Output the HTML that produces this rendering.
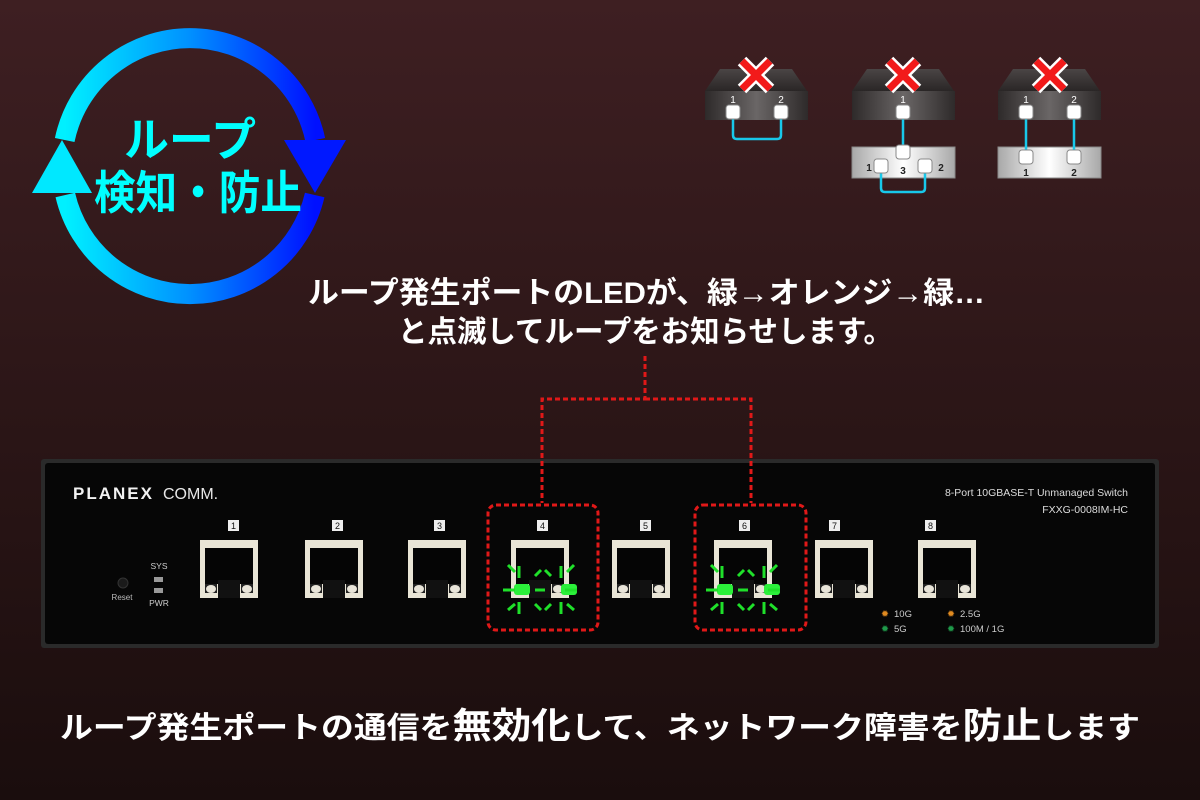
<!DOCTYPE html>
<html><head><meta charset="utf-8">
<style>
html,body{margin:0;padding:0;width:1200px;height:800px;overflow:hidden;background:#221212;}
svg{display:block}
text{font-family:"Liberation Sans","Noto Sans CJK JP",sans-serif;}
</style></head>
<body>
<svg width="1200" height="800" viewBox="0 0 1200 800" xmlns="http://www.w3.org/2000/svg">
<defs>
<linearGradient id="bg" x1="0" y1="0" x2="0" y2="1">
<stop offset="0" stop-color="#3e1f22"/><stop offset="0.55" stop-color="#2a1516"/><stop offset="1" stop-color="#1a0d0d"/>
</linearGradient>
<linearGradient id="ring" x1="0" y1="0" x2="1" y2="0">
<stop offset="0" stop-color="#00f0ff"/><stop offset="0.5" stop-color="#0090ff"/><stop offset="1" stop-color="#0010ff"/>
</linearGradient>
<linearGradient id="dark" x1="0" y1="0" x2="1" y2="0">
<stop offset="0" stop-color="#2e2a2a"/><stop offset="0.5" stop-color="#6a6666"/><stop offset="1" stop-color="#2e2a2a"/>
</linearGradient>
<linearGradient id="darktop" x1="0" y1="0" x2="0" y2="1">
<stop offset="0" stop-color="#4a4545"/><stop offset="1" stop-color="#2a2626"/>
</linearGradient>
<linearGradient id="light" x1="0" y1="0" x2="1" y2="0">
<stop offset="0" stop-color="#a8a8a8"/><stop offset="0.5" stop-color="#ffffff"/><stop offset="1" stop-color="#a8a8a8"/>
</linearGradient>
<g id="port">
<rect x="0" y="0" width="58" height="58" fill="#e9e5d6"/>
<rect x="5" y="8" width="48" height="38" fill="#050505"/>
<rect x="3" y="44" width="52" height="12" fill="#e9e5d6"/>
<rect x="18" y="40" width="22" height="18" fill="#111"/>
<rect x="5" y="44" width="12" height="9" fill="#222"/>
<rect x="41" y="44" width="12" height="9" fill="#222"/>
<ellipse cx="11" cy="49" rx="5" ry="4" fill="#e8e4d8"/>
<ellipse cx="47" cy="49" rx="5" ry="4" fill="#e8e4d8"/>
</g>
<g id="glow" stroke="#1fe02a" stroke-width="3" fill="none">
<line x1="-8" y1="46" x2="4" y2="46"/><line x1="24" y1="46" x2="34" y2="46"/><line x1="54" y1="46" x2="66" y2="46"/>
<line x1="4" y1="28" x2="-3" y2="21"/><line x1="8" y1="22" x2="8" y2="34"/>
<line x1="24" y1="32" x2="30" y2="26"/><line x1="34" y1="26" x2="40" y2="32"/>
<line x1="50" y1="22" x2="50" y2="34"/><line x1="56" y1="28" x2="63" y2="21"/>
<line x1="-3" y1="66" x2="4" y2="60"/><line x1="8" y1="58" x2="8" y2="70"/>
<line x1="24" y1="60" x2="30" y2="66"/><line x1="34" y1="66" x2="40" y2="60"/>
<line x1="50" y1="58" x2="50" y2="70"/><line x1="56" y1="60" x2="63" y2="66"/>
</g>
<g id="xmark" stroke-linecap="butt">
<line x1="-14" y1="-14" x2="14" y2="14" stroke="#fff" stroke-width="12"/>
<line x1="14" y1="-14" x2="-14" y2="14" stroke="#fff" stroke-width="12"/>
<line x1="-14" y1="-14" x2="14" y2="14" stroke="#f21a1a" stroke-width="7"/>
<line x1="14" y1="-14" x2="-14" y2="14" stroke="#f21a1a" stroke-width="7"/>
</g>
<g id="sock"><rect x="-7" y="-7" width="14" height="14" rx="3" fill="#fff" stroke="#888" stroke-width="1"/></g>
</defs>
<rect width="1200" height="800" fill="url(#bg)"/>

<!-- ring -->
<path d="M64.7 140 A128 128 0 0 1 315.3 140" fill="none" stroke="url(#ring)" stroke-width="20"/>
<path d="M314.7 195 A128 128 0 0 1 65.3 195" fill="none" stroke="url(#ring)" stroke-width="20"/>
<polygon points="32,193 92,193 62,140" fill="#00e8ff"/>
<polygon points="284,140 346,140 315,193" fill="#0018ff"/>
<g fill="#00ffff" font-weight="bold" stroke="#003" stroke-width="0" style="paint-order:stroke">
<text x="190" y="156" font-size="46" text-anchor="middle" textLength="132" lengthAdjust="spacingAndGlyphs">ループ</text>
<text x="198" y="209" font-size="46" text-anchor="middle" textLength="208" lengthAdjust="spacingAndGlyphs">検知・防止</text>
</g>

<!-- small diagrams -->
<g>
<polygon points="705,91 720,69 792,69 807,91" fill="url(#darktop)"/>
<rect x="705" y="91" width="103" height="29" fill="url(#dark)"/>
<path d="M733 112 V135 Q733 139 737 139 H777 Q781 139 781 135 V112" fill="none" stroke="#18c8ea" stroke-width="2.5"/>
<use href="#sock" x="733" y="112"/><use href="#sock" x="781" y="112"/>
<text x="733" y="103" fill="#fff" font-size="10" text-anchor="middle">1</text>
<text x="781" y="103" fill="#fff" font-size="10" text-anchor="middle">2</text>
<use href="#xmark" x="756" y="75"/>

<polygon points="852,91 867,69 939,69 954,91" fill="url(#darktop)"/>
<rect x="852" y="91" width="103" height="29" fill="url(#dark)"/>
<rect x="852" y="147" width="103" height="31" fill="url(#light)" stroke="#888"/>
<line x1="903" y1="112" x2="903" y2="150" stroke="#18c8ea" stroke-width="2.5"/>
<path d="M881 165 V188 Q881 192 885 192 H921 Q925 192 925 188 V165" fill="none" stroke="#18c8ea" stroke-width="2.5"/>
<use href="#sock" x="903" y="112"/><use href="#sock" x="903" y="152"/>
<use href="#sock" x="881" y="166"/><use href="#sock" x="925" y="166"/>
<text x="903" y="103" fill="#fff" font-size="10" text-anchor="middle">1</text>
<text x="869" y="171" fill="#222" font-size="10" font-weight="bold" text-anchor="middle">1</text>
<text x="903" y="174" fill="#222" font-size="10" font-weight="bold" text-anchor="middle">3</text>
<text x="941" y="171" fill="#222" font-size="10" font-weight="bold" text-anchor="middle">2</text>
<use href="#xmark" x="903" y="75"/>

<polygon points="998,91 1013,69 1085,69 1100,91" fill="url(#darktop)"/>
<rect x="998" y="91" width="103" height="29" fill="url(#dark)"/>
<rect x="998" y="147" width="103" height="31" fill="url(#light)" stroke="#888"/>
<line x1="1026" y1="112" x2="1026" y2="155" stroke="#18c8ea" stroke-width="2.5"/>
<line x1="1074" y1="112" x2="1074" y2="155" stroke="#18c8ea" stroke-width="2.5"/>
<use href="#sock" x="1026" y="112"/><use href="#sock" x="1074" y="112"/>
<use href="#sock" x="1026" y="157"/><use href="#sock" x="1074" y="157"/>
<text x="1026" y="103" fill="#fff" font-size="10" text-anchor="middle">1</text>
<text x="1074" y="103" fill="#fff" font-size="10" text-anchor="middle">2</text>
<text x="1026" y="176" fill="#222" font-size="10" font-weight="bold" text-anchor="middle">1</text>
<text x="1074" y="176" fill="#222" font-size="10" font-weight="bold" text-anchor="middle">2</text>
<use href="#xmark" x="1050" y="75"/>
</g>

<!-- captions -->
<g fill="#fff" font-weight="bold">
<text x="308" y="303" font-size="30" textLength="677" lengthAdjust="spacingAndGlyphs">ループ発生ポートのLEDが、緑→オレンジ→緑…</text>
<text x="398" y="342" font-size="30" textLength="495" lengthAdjust="spacingAndGlyphs">と点滅してループをお知らせします。</text>
</g>

<!-- switch -->
<rect x="41" y="459" width="1118" height="189" rx="3" fill="#2a2a2a"/>
<rect x="45" y="463" width="1110" height="181" rx="3" fill="#060606"/>
<text x="73" y="499" fill="#f2f2f2" font-size="17" font-weight="bold" letter-spacing="2">PLANEX</text>
<text x="163" y="499" fill="#e8e8e8" font-size="16">COMM.</text>
<text x="1128" y="496" fill="#ddd" font-size="10.5" text-anchor="end">8-Port 10GBASE-T Unmanaged Switch</text>
<text x="1128" y="513" fill="#ddd" font-size="10.5" text-anchor="end">FXXG-0008IM-HC</text>
<circle cx="123" cy="583" r="5" fill="#1a1a1a" stroke="#333"/>
<text x="122" y="600" fill="#bbb" font-size="8" text-anchor="middle">Reset</text>
<text x="159" y="569" fill="#ccc" font-size="8.5" text-anchor="middle">SYS</text>
<rect x="154" y="577" width="9" height="5" fill="#999"/>
<rect x="154" y="588" width="9" height="5" fill="#999"/>
<text x="159" y="606" fill="#ccc" font-size="8.5" text-anchor="middle">PWR</text>

<g font-size="9" fill="#111" text-anchor="middle">
<rect x="228" y="520" width="11" height="11" fill="#eee"/><text x="233.5" y="529">1</text>
<rect x="332" y="520" width="11" height="11" fill="#eee"/><text x="337.5" y="529">2</text>
<rect x="434" y="520" width="11" height="11" fill="#eee"/><text x="439.5" y="529">3</text>
<rect x="537" y="520" width="11" height="11" fill="#eee"/><text x="542.5" y="529">4</text>
<rect x="640" y="520" width="11" height="11" fill="#eee"/><text x="645.5" y="529">5</text>
<rect x="739" y="520" width="11" height="11" fill="#eee"/><text x="744.5" y="529">6</text>
<rect x="829" y="520" width="11" height="11" fill="#eee"/><text x="834.5" y="529">7</text>
<rect x="925" y="520" width="11" height="11" fill="#eee"/><text x="930.5" y="529">8</text>
</g>
<use href="#port" x="200" y="540"/>
<use href="#port" x="305" y="540"/>
<use href="#port" x="408" y="540"/>
<use href="#port" x="511" y="540"/>
<use href="#port" x="612" y="540"/>
<use href="#port" x="714" y="540"/>
<use href="#port" x="815" y="540"/>
<use href="#port" x="918" y="540"/>
<!-- glowing LEDs -->
<rect x="514" y="584" width="16" height="11" rx="3" fill="#2bf03a"/>
<rect x="561" y="584" width="16" height="11" rx="3" fill="#2bf03a"/>
<rect x="717" y="584" width="16" height="11" rx="3" fill="#2bf03a"/>
<rect x="764" y="584" width="16" height="11" rx="3" fill="#2bf03a"/>
<use href="#glow" x="511" y="544"/>
<use href="#glow" x="714" y="544"/>

<g font-size="9.5" fill="#ccc">
<text x="881" y="617" fill="#e08a20">✹</text><text x="894" y="617">10G</text>
<text x="881" y="632" fill="#1f9a4a">✹</text><text x="894" y="632">5G</text>
<text x="947" y="617" fill="#e08a20">✹</text><text x="960" y="617">2.5G</text>
<text x="947" y="632" fill="#1f9a4a">✹</text><text x="960" y="632">100M / 1G</text>
</g>

<!-- red dotted -->
<g fill="none" stroke="#e01818" stroke-width="3" stroke-dasharray="5 3">
<path d="M645 356 V399 H542 V503"/>
<path d="M645 399 H751 V503"/>
<rect x="488" y="505" width="110" height="125" rx="8"/>
<rect x="695" y="505" width="111" height="125" rx="8"/>
</g>

<!-- bottom caption -->
<g fill="#fff" font-weight="bold">
<text x="60" y="738" font-size="30" textLength="1080" lengthAdjust="spacingAndGlyphs">ループ発生ポートの通信を<tspan font-size="36">無効化</tspan>して、ネットワーク障害を<tspan font-size="36">防止</tspan>します</text>
</g>
</svg>
</body></html>
